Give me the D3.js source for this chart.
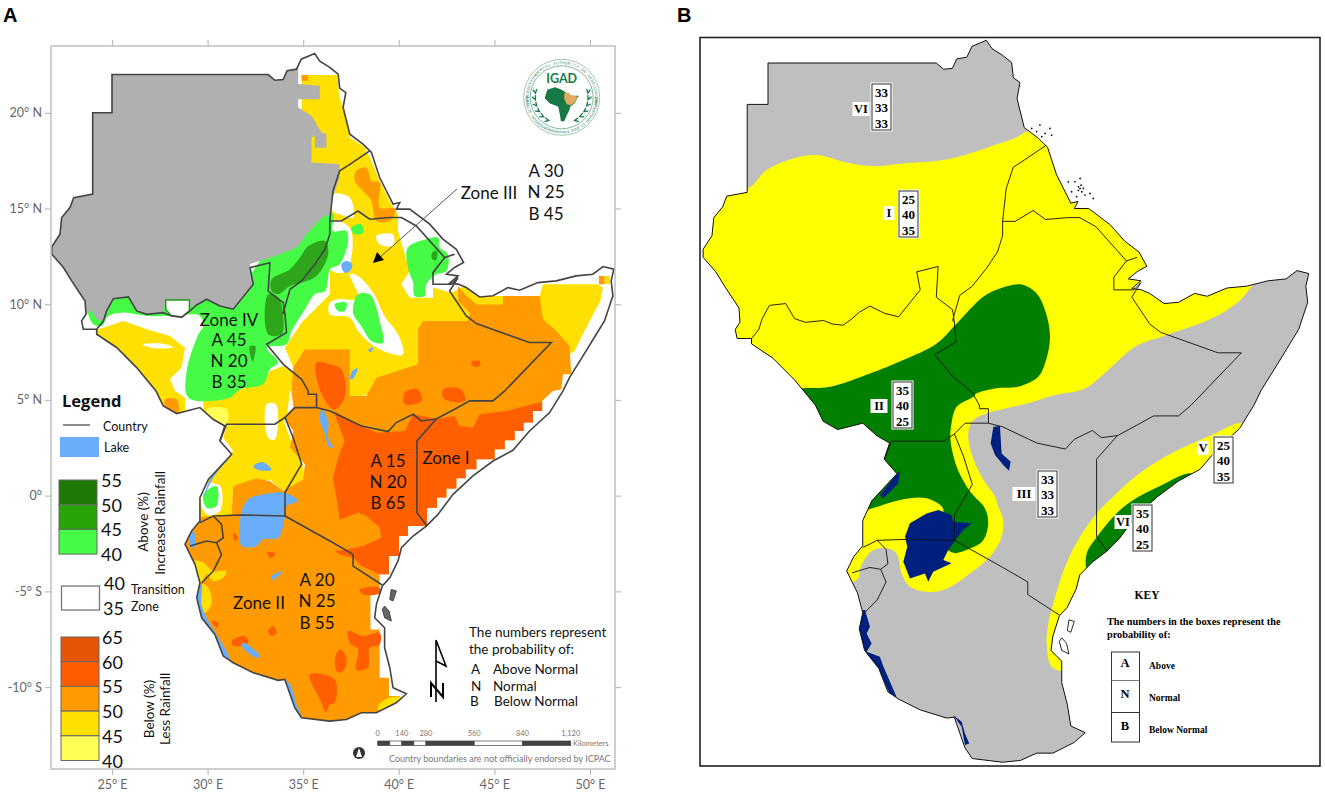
<!DOCTYPE html>
<html>
<head>
<meta charset="utf-8">
<script src="https://cdn.jsdelivr.net/npm/d3@7"></script>
<style>
html, body { margin: 0; padding: 0; background: #fff; }
svg { display: block; }
</style>
</head>
<body>
<div id="chart"></div>
<script>
// everything below is [lon, lat]

// coast and outer border of the region
var outline = [[25,22],[33.17,22],[33.52,21.7],[33.95,21.74],[34.16,22.2],[34.65,22.28],[34.9,22.8],[35.6,23.1],[35.87,22.7],[36.39,22.37],[36.83,22.02],[36.91,21.29],[37.23,21.06],[37.09,20.28],[37.44,18.88],[38.13,18.36],[38.57,17.93],[39,16.62],[39.7,15.23],[40.05,15.31],[39.87,14.97],[40.57,14.97],[41.62,14.18],[42.31,13.4],[43.01,12.87],[43.39,12.18],[42.92,11.92],[42.49,11.57],[43.1,11.48],[42.66,11.1],[43.1,11.05],[43.53,10.87],[44.23,10.38],[44.93,10.44],[45.71,10.87],[46.32,10.73],[47.28,11.13],[48.24,11.22],[49.28,11.48],[50.15,11.57],[50.68,11.97],[51.25,11.83],[51.11,11.22],[51.2,10.44],[50.76,9.13],[50.33,8.43],[49.8,7.56],[48.93,6.17],[48.59,5.47],[47.89,4.34],[46.84,3.38],[45.97,2.37],[44.93,1.81],[43.88,1.03],[42.84,0.07],[42.05,-0.98],[41.44,-1.59],[40.75,-2.11],[40.14,-2.72],[39.96,-3.41],[39.53,-4.29],[39.14,-4.72],[38.83,-5.68],[38.74,-6.38],[39.26,-6.9],[39.26,-7.94],[39.53,-8.99],[39.7,-10.03],[40.4,-10.35],[39.87,-10.82],[38.83,-11.34],[38.04,-11.34],[37.26,-11.69],[36.39,-11.78],[34.91,-11.6],[34.56,-11.08],[34.04,-9.6],[33.69,-9.65],[32.39,-9.25],[31.34,-8.73],[30.82,-8.38],[30.38,-7.25],[29.69,-6.38],[29.43,-5.33],[29.6,-4.55],[29.34,-3.59],[28.82,-2.54],[29.16,-1.85],[29.6,-1.32],[29.6,-0.1],[30.04,0.85],[31.26,2.16],[30.64,2.86],[30.9,3.64],[30.29,3.99],[29.6,4.6],[28.38,4.29],[27.68,4.69],[27.3,5.47],[26.29,6.69],[25.24,7.74],[24.2,8.43],[24.2,8.69],[23.5,8.69],[23.41,9.13],[23.64,9.48],[23.59,10.17],[22.89,11.22],[22.46,11.92],[21.85,12.61],[21.85,13],[22.28,13.66],[22.37,14.53],[22.8,15.05],[23,15.57],[23.99,15.75],[23.99,20],[25,20]];

// country borders
var borders = [
  [[24.2,8.69],[24.55,9.12],[24.72,9.65],[25.07,10.29],[25.86,10.38],[26.29,9.65],[26.82,9.47],[27.69,9.56],[28.12,9.39],[28.65,9.33],[29.08,9.65],[29.43,9.96],[29.95,10.26],[30.65,9.91],[31.34,9.74],[32.39,11.04],[32.22,11.91],[33.26,12.17],[33.17,10.69],[33.96,10.08],[34.05,9.47]],
  [[38.48,18.01],[37.44,17.31],[36.91,16.97],[36.56,15.92],[36.39,14.35],[36.39,13.66],[36.14,12.87],[35.61,12.09],[34.92,11.22],[34.31,10.78],[33.96,9.56],[34.05,9.47],[34.13,8.52],[33.09,7.91],[33.96,6.86],[34.92,6.08],[35.26,5.47],[35.26,5.3],[35.7,5.3],[35.7,4.6]],
  [[34.05,4.08],[34.57,4.6],[35.7,4.6],[36.4,4.42],[38.05,3.64],[39.44,3.35],[39.87,3.82],[40.75,4.25],[41.18,3.9],[41.96,4],[42.92,4.51],[43.71,4.95],[44.93,4.95],[45.54,5.47],[47.98,8],[46.84,8],[44.06,8.99],[43.53,9.39],[42.66,10.69],[43.1,11.39]],
  [[36.39,14.35],[37,14.35],[37.87,14.87],[38.48,14.44],[39.53,14.53],[40.14,14.53],[40.92,14.09],[42.4,12.44],[42.92,12.61]],
  [[42.4,12.44],[41.79,11.65],[41.79,11.04],[42.75,11.04],[43.1,11.39]],
  [[41.96,4],[40.95,2.86],[40.95,-0.89],[41.48,-1.59]],
  [[34.05,-1.06],[36.4,-2.37],[37.61,-3.07],[37.61,-3.68],[39.14,-4.67]],
  [[29.6,-1.41],[30.3,-1.06],[31.78,-1.01],[34.05,-1.06]],
  [[34.05,-1.06],[34.05,0.16],[34.92,1.64],[34.48,3.03],[34.05,4.08],[33.52,3.73],[30.99,3.73],[30.65,2.86]],
  [[30.3,-1.06],[30.73,-1.5],[30.82,-2.2],[30.47,-2.46],[29.95,-2.37],[29.08,-2.63]],
  [[30.47,-2.46],[30.73,-3.07],[30.3,-3.94],[29.69,-4.55]]
];

var pemba = [[39.61,-4.9],[39.87,-4.98],[39.7,-5.5],[39.53,-5.42]];
var zanzibar = [[39.26,-5.77],[39.49,-6.03],[39.61,-6.55],[39.26,-6.38],[39.14,-5.94]];
var islandDots = [[39.58,16.26],[39.9,16.26],[40.15,16.42],[40.07,16.02],[40.23,15.78],[40.39,15.62],[40.63,15.7],[40.79,15.46],[39.74,15.78],[39.98,15.54],[40.15,15.94],[40.31,15.94],[40.07,15.85],[40.2,16.1],[37.8,18.84],[38.2,19],[38.69,18.84],[38.04,18.68],[38.45,18.6],[38.77,18.52],[38.29,18.44]];

// map A rainfall classes
var grayA = [[21,23.5],[34.74,23.5],[34.74,21.5],[35.87,21.41],[35.87,20.71],[34.74,20.71],[34.74,20.28],[35.44,19.84],[35.96,18.97],[36.22,18.88],[36.22,18.18],[35.61,18.18],[35.61,18.79],[35.44,18.71],[35.44,17.4],[36.88,17.33],[36.91,16.62],[36.48,15.4],[36.39,14.7],[35.96,14.5],[35.17,13.65],[34.65,12.95],[33.35,12.45],[32.22,12.1],[32.39,11.04],[31.34,9.74],[30.65,9.91],[29.95,10.26],[29.43,9.96],[29.05,9.9],[27.81,10.22],[27.69,9.56],[26.82,9.47],[26.29,9.65],[25.86,10.38],[25.07,10.29],[24.72,9.65],[24.55,9.12],[24.2,9.2],[23.9,9.7],[23.2,9],[21,12]];
var yellowNorth = [[34.92,21.98],[36.77,21.98],[36.91,20.8],[37.17,20.1],[37.44,18.71],[38.22,18.2],[38.57,17.49],[39,16.44],[39.61,15.22],[39.96,14.7],[39.96,13.83],[40.57,11.74],[40.14,11.04],[40.57,10.34],[41.79,10.34],[41.79,10.87],[42.75,10.6],[43.45,10.95],[44.06,10.43],[45.45,10.43],[47.37,10.43],[47.54,11.04],[50.41,11.04],[50.68,10.87],[50.54,10.17],[50.07,9.3],[49.63,8.43],[49.2,7.56],[48.93,7.38],[46.84,6.69],[37.44,5.12],[34.48,6.69],[34.05,7.73],[34.92,9.04],[36.4,10.52],[36.39,14.35],[36.39,17.3],[34.92,17.3]];
var yellowHorn = [[50.76,11.48],[51.05,11.48],[51.05,11.04],[50.76,11.04]];
var yellowSouthSudanW = [[24.29,8.69],[25.6,9.13],[26.82,8.69],[28.03,8.34],[28.82,7.73],[28.64,6.69],[28.03,6.08],[28.3,5.47],[28.82,5.12],[28.82,4.25],[27.51,4.25],[27,5],[25,7],[23.5,8.5]];
var yellowSouthSudanE = [[32.91,5.9],[33.26,6.51],[33.96,6.77],[34.92,6.16],[34.48,5.47],[34.31,5.47],[34.13,3.99],[31,3.64],[30.3,3.99],[29.78,4.42],[29.78,5.3],[31.34,5.47],[31.69,5.55]];
var yellowUganda = [[31,3.64],[33.96,3.99],[34.48,2.51],[35,1.55],[35.09,0.59],[33.96,0.24],[33.26,0.85],[31.34,0.5],[31.26,-1.01],[30.3,-1.06],[29.6,-1.41],[29.43,-0.28],[29.95,0.77],[31.34,2.33],[30.82,3.03]];
var yellowTz1 = [[29.25,-3.4],[29.78,-3.5],[30.3,-3.94],[31,-3.94],[30.82,-4.29],[30.3,-4.46],[29.95,-4.11],[29.69,-4.55],[29.43,-4.11]];
var yellowTz2 = [[29.69,-4.63],[30.04,-4.81],[30.21,-5.68],[29.78,-6.12]];
var yellowTz3 = [[38.92,-10.99],[39.49,-10.56],[40.14,-10.56],[39.96,-10.82],[39,-11.25]];
var paleSouthSudan = [[29.95,4.51],[31,4.51],[31,3.73],[30.13,3.9]];
var orangeMain = [[43.1,10.95],[43.45,10.52],[44.06,9.99],[45.45,9.99],[45.45,10.43],[47.37,10.43],[47.54,9.21],[48.24,8.6],[48.93,7.82],[49.02,6.34],[48.59,6.34],[48.5,5.55],[48.06,5.47],[47.5,4.95],[47.5,4.42],[47.02,4.42],[47.02,3.82],[46.53,3.82],[46.53,3.38],[46.06,3.38],[46.06,2.89],[45.54,2.89],[45.54,2.42],[45.01,2.42],[45.01,1.9],[44.06,1.9],[44.06,1.38],[43.5,1.38],[43.5,0.91],[43.01,0.91],[43.01,0.38],[42.49,0.38],[42.49,-0.1],[42,-0.1],[42,-0.63],[41.48,-0.63],[41.48,-1.59],[40.48,-1.59],[40.48,-2.11],[40.01,-2.11],[40.01,-3.15],[39.49,-3.15],[39.49,-4.11],[39,-4.11],[39,-5.07],[38.52,-5.07],[38.52,-6.99],[39,-6.99],[39,-9.51],[39.49,-9.51],[39.49,-10.47],[40.05,-10.47],[40.05,-11.95],[34,-12],[29,-8],[28.5,-3],[28.5,-1.2],[30.3,-1.06],[31.26,-0.98],[31.34,0.5],[32.56,0.9],[33.26,0.77],[33.96,0.24],[35,0.85],[35.09,1.64],[34.31,2.51],[34.49,3.38],[33.96,4.08],[34.49,4.6],[34.39,5.47],[34.48,6.69],[35.09,7.64],[37.44,7.64],[37.44,5.2],[38.31,5.2],[38.83,6.16],[41.01,6.86],[41.01,8.69],[41.27,9.13],[43.62,9.13],[43.71,9.56],[43.1,10.17]];
var orangeEritrea = [[37.78,16.97],[38.31,17.14],[38.57,16.44],[39,16.36],[39,15.05],[39.79,15.01],[39.79,14.7],[39.53,14.35],[38.83,14.35],[38.57,15.4],[38.13,15.92],[37.7,16.44]];
var orangeSouthSudan = [[27.77,5.03],[28.38,5.03],[28.47,4.34],[27.86,4.42]];
var orangeHorn = [[50.47,11.48],[50.76,11.48],[50.76,11.04],[50.47,11.04]];
var orangeNorth = [[34.92,21.98],[35.25,21.98],[35.25,21.67],[34.92,21.67]];
var redMain = [[42.92,4.16],[43.18,3.64],[43.88,3.55],[44.23,4.25],[45.62,4.42],[47.5,4.91],[47.5,4.42],[47.02,4.42],[47.02,3.82],[46.53,3.82],[46.53,3.38],[46.06,3.38],[46.06,2.89],[45.54,2.89],[45.54,2.42],[45.01,2.42],[45.01,1.9],[44.06,1.9],[44.06,1.38],[43.5,1.38],[43.5,0.91],[43.01,0.91],[43.01,0.38],[42.49,0.38],[42.49,-0.1],[42,-0.1],[42,-0.63],[41.48,-0.63],[41.48,-1.59],[40.48,-1.59],[40.48,-2.11],[40.01,-2.11],[40.01,-3.15],[39.49,-3.15],[39.49,-4.11],[39,-4.11],[38.05,-3.68],[37.61,-3.24],[36.91,-3.07],[36.65,-2.89],[37.35,-2.81],[38.13,-2.63],[39.09,-2.2],[39,-1.67],[38.31,-1.06],[37.87,-0.89],[36.91,-1.24],[36.83,-0.63],[36.56,0.94],[36.83,1.99],[37.17,2.86],[36.74,3.99],[36.6,4.42],[38.05,3.64],[38.83,3.29],[40.31,3.38],[40.75,4.25],[41.96,4]];
var redPatches = [
  [[35.7,6.95],[36.4,6.86],[36.99,6.6],[37.17,5.12],[36.6,4.5],[35.87,5.55]],
  [[40.31,5.38],[41.01,5.55],[41.18,4.94],[40.31,4.77]],
  [[42.31,5.55],[43.27,5.55],[43.45,4.94],[42.4,5.03]],
  [[43.79,7],[44.23,7.03],[44.23,6.77],[43.88,6.77]],
  [[35.35,-9.34],[36.65,-9.6],[36.65,-10.82],[36.39,-10.91],[36.2,-11.3],[35.88,-10.65]],
  [[36.91,-8.03],[37.26,-8.47],[37.17,-9.08],[36.83,-9.25],[36.65,-8.64]],
  [[37.35,-7.07],[38.13,-7.33],[39,-7.16],[39,-7.77],[38.48,-7.94],[38.39,-8.99],[37.78,-9.08],[37.87,-8.03],[37.44,-7.68]],
  [[37.96,-4.9],[39,-4.81],[39,-5.1],[38.13,-5.16]],
  [[31.26,-7.6],[31.95,-7.33],[32.13,-7.68],[31.35,-7.86]],
  [[33.17,-7.07],[33.44,-6.81],[33.61,-7.16],[33.35,-7.33]],
  [[30.21,-6.55],[30.56,-6.64],[30.47,-6.9]],
  [[31.35,-1.93],[31.6,-2.2],[31.43,-2.37]],
  [[33.1,-2.95],[33.55,-3.03],[33.3,-3.25]]
];
var whiteHoles = [
  [[36.39,10.08],[36.83,10.26],[37.78,10.26],[37.87,10.52],[37.44,11.56],[37.87,11.48],[38.66,10.61],[39.26,9.39],[39.96,8.43],[40.22,7.38],[39.44,7.47],[38.57,7.91],[37.87,8.6],[37.44,9.3],[36.39,9.47]],
  [[36.56,15.75],[37.44,15.57],[37.61,14.53],[36.91,14.7],[36.5,14.9]],
  [[36.39,14.35],[37.44,14],[37.44,12.09],[37.09,11.65],[36.39,11.83]],
  [[38.83,13.57],[39.7,13.65],[39.7,13.05],[39,13.13]],
  [[29.78,0.59],[30.65,0.5],[30.65,-0.8],[30.04,-1.01],[29.69,-0.54]],
  [[33.09,4.77],[33.57,4.77],[33.52,2.94],[33.17,3.03]],
  [[26.6,7.9],[27.6,7.95],[28.2,7.75],[27.2,7.7]]
];
var lightGreen = [
  [[23.77,9.73],[25.07,10.69],[31.34,10.69],[33.09,12.61],[34.83,13.31],[35.96,14.7],[36.57,14.7],[36.56,13.83],[37.26,13.83],[37.35,13.3],[37.17,12.61],[36.91,12.09],[36.39,11.83],[36.31,11.39],[36.14,10.69],[35.61,10.52],[35.09,9.73],[34.39,8.6],[34.13,7.91],[33.09,7.73],[33.7,6.95],[33.26,6.6],[32.91,5.82],[31.69,5.55],[31.17,5.12],[29,5.12],[28.91,6.51],[29.52,8.43],[29.78,8.86],[29.6,9.39],[28.03,9.39],[26.82,9.39],[25.51,9.56],[24.81,9.39],[24.46,8.86],[24.03,8.95]],
  [[40.48,12.96],[41.44,13.39],[42.05,13.48],[42.14,12.96],[42.57,12.61],[42.49,11.74],[41.96,11.56],[41.44,11.04],[41.36,10.43],[40.83,10.43],[40.75,11.13],[40.48,11.91]],
  [[37.87,10.52],[38.48,10.52],[38.74,10.08],[39,9.13],[39.18,7.99],[38.57,8.08],[38.04,8.86],[37.61,9.56]],
  [[36.65,10],[37.26,10.08],[37.17,9.65],[36.83,9.65]],
  [[37.52,14],[38.04,14.18],[38.13,13.74],[37.7,13.65]],
  [[29.78,0.07],[30.47,0.5],[30.47,-0.54],[29.95,-0.63]]
];
var midGreen = [
  [[33.17,10.52],[33.7,10.35],[33.96,9.39],[33.87,8.43],[33.17,8.43]],
  [[33.35,11.3],[34.31,11.83],[34.83,12.44],[35.27,13.04],[36.14,13.31],[36.31,12.61],[35.7,11.48],[34.92,11.13],[34.31,10.95],[33.7,10.52],[33.35,10.69]],
  [[24.38,9.73],[24.64,9.73],[24.64,9.3],[24.3,9.3]],
  [[32.2,7.8],[32.5,7.8],[32.35,7]],
  [[41.75,12.7],[42,12.8],[41.95,12.3],[41.75,12.35]]
];
var abyei = [[27.81,10.22],[29.05,10.22],[29.05,9.65],[28.65,9.33],[28.12,9.39],[27.81,9.73]];

var lakesA = [
  [[31.78,-0.8],[32.13,-0.19],[32.91,0.07],[33.96,0.16],[34.74,-0.28],[34.13,-0.54],[34.05,-1.06],[33.7,-2.2],[32.91,-2.28],[32.56,-2.63],[31.78,-2.63],[31.69,-1.5]],
  [[35.96,4.51],[36.31,3.9],[36.31,3.03],[36.56,2.51],[36.39,2.51],[36.08,3.38],[35.88,3.9]],
  [[29.43,-4.98],[29.6,-6.2],[30.3,-7.25],[30.82,-8.47],[31.17,-8.68],[31.08,-8.29],[30.47,-7.25],[29.95,-6.38],[29.69,-5.68],[29.69,-4.63]],
  [[29.17,-1.85],[29.08,-2.63],[29.31,-2.72],[29.34,-2.02]],
  [[31.26,2.16],[30.3,0.94],[29.78,-0.1],[30.13,0.85],[31.17,2.16]],
  [[33.96,-9.6],[34.31,-9.86],[34.66,-10.91],[34.91,-11.6],[34.66,-11.64],[34.39,-10.91],[33.99,-9.95]],
  [[31.87,-7.68],[32.74,-8.38],[32.56,-8.47],[31.78,-7.86]],
  [[37,12.09],[37.26,12.26],[37.57,12.09],[37.44,11.74],[37.17,11.65]],
  [[32.4,1.55],[32.9,1.75],[33.35,1.35],[32.9,1.3],[32.5,1.4]],
  [[33.3,-4.25],[33.85,-3.95],[33.8,-4.1],[33.4,-4.4]],
  [[37.6,6.55],[37.85,6.65],[37.6,6.1],[37.45,6.1]],
  [[38.4,7.6],[38.65,7.75],[38.55,7.5]]
];

// map B zones
var yellowB = [[23.99,15.94],[24.93,16.83],[26.23,17.39],[27.36,17.55],[28.65,17.23],[29.95,17.02],[31.57,17.15],[33.51,17.31],[34.8,17.63],[36.26,18.12],[36.99,18.36],[37.64,18.71],[40,19],[49,12],[48.48,11.22],[47.75,10.39],[46.38,9.58],[44.43,8.89],[42.82,8.29],[41.52,7.17],[40.39,6.28],[38.93,5.96],[37.64,5.56],[36.51,5.31],[35.61,5.07],[34.97,4.75],[34.72,4.11],[34.88,3.14],[35.37,2.01],[36.02,1.05],[36.18,0.56],[36.42,-0.08],[36.34,-0.89],[36.02,-1.53],[35.61,-2.01],[34.48,-2.9],[33.51,-3.46],[32.7,-3.54],[31.89,-3.3],[31.49,-2.66],[31.24,-1.69],[30.84,-1.45],[30.11,-1.53],[29.54,-2.25],[29.3,-2.98],[28,-3],[22,5],[20,16]];
var greenB = [[26.47,6.28],[28.01,6.36],[29.95,7],[31.57,7.65],[33.19,8.45],[34.16,9.42],[35.45,10.71],[36.26,11.11],[37.31,11.3],[38.04,10.87],[38.45,10.06],[38.69,8.78],[38.45,7.49],[38.12,6.84],[37.15,6.36],[36.02,6.28],[35.13,6.04],[34.97,5.88],[34.16,5.39],[33.91,4.59],[33.86,3.78],[34.16,2.5],[34.56,1.69],[34.88,1.21],[35.53,0.48],[35.69,-0.24],[35.45,-1.05],[34.8,-1.45],[33.91,-1.64],[33.18,-0.56],[33.51,0.44],[32.7,0.97],[31.41,0.89],[30.03,0.48],[28,0],[24,6]];
var yellowCoastB = [[48.07,4.62],[46.54,4.03],[44.43,3.06],[42.82,2.01],[41.68,0.97],[40.95,0.24],[40.15,-0.89],[39.42,-2.33],[38.85,-4.11],[38.61,-5.07],[38.53,-6.04],[38.77,-7.17],[39.34,-7.36],[39.9,-7],[41,-3],[46.5,1],[49,4]];
var greenCoastB = [[40.47,-2.58],[40.47,-1.69],[41.04,-0.8],[42,0.32],[42.73,0.89],[43.95,1.53],[45.57,2.17],[46,1.5],[41,-4]];
var lakesB = [
  [[31.65,-0.89],[31.89,-0.24],[32.7,0.24],[33.27,0.4],[33.91,0.16],[33.99,-0.16],[34.88,-0.24],[34.48,-0.56],[34.16,-0.97],[33.75,-1.53],[33.51,-2.01],[33.91,-2.17],[33.02,-2.58],[32.78,-3.06],[32.62,-2.66],[31.89,-2.9],[31.57,-2.09],[31.76,-1.37]],
  [[31.41,2.34],[31.32,1.69],[30.6,0.97],[30.43,1.13],[31.08,1.93]],
  [[29.3,-4.43],[29.71,-4.43],[29.95,-5.23],[29.79,-5.56],[30.03,-6.04],[29.79,-6.44],[30.43,-6.68],[30.6,-7.16],[31.24,-8.61],[31,-8.65],[30.35,-7.33],[29.95,-6.76],[29.54,-6.2],[29.3,-5.07]],
  [[33.99,-9.5],[34.4,-9.82],[34.56,-10.39],[34.77,-10.87],[34.56,-10.95],[34.4,-10.06]],
  [[35.94,4.43],[36.26,4.46],[36.34,3.14],[36.78,2.74],[36.7,2.3],[36.42,2.58],[36.02,3.06],[35.81,3.62]]
];

// legends and labels
var aboveColors = ["#1f7a05", "#27a508", "#45fb45"];
var aboveTicks = [55, 50, 45, 40];
var transitionTicks = [40, 35];
var belowColors = ["#e65405", "#ff5c00", "#ff9a00", "#ffe000", "#ffff55"];
var belowTicks = [65, 60, 55, 50, 45, 40];
var scaleTicks = [0, 140, 280, 560, 840, 1120];
var scaleSegments = [0, 70, 140, 210, 280, 560, 840, 1120];
var lonTicks = [25, 30, 35, 40, 45, 50];
var latTicks = [20, 15, 10, 5, 0, -5, -10];
var zoneBoxesB = [
  { zone: "VI", values: [33, 33, 33] },
  { zone: "I", values: [25, 40, 35] },
  { zone: "II", values: [35, 40, 25] },
  { zone: "III", values: [33, 33, 33] },
  { zone: "V", values: [25, 40, 35] },
  { zone: "VI", values: [35, 40, 25] }
];
var africaLogo = [[-17,-17],[-8,-20],[-2,-18],[2,-16],[6,-13],[12,-10],[20,-10],[15,-1],[10,3],[9,7],[6,13],[3,20],[-1,20],[-2,13],[-3,8],[-4,3],[-8,1],[-14,-1],[-20,-7]];
var hornLogo = [[3,-13],[8,-14],[10,-11],[19,-9],[15,-2],[11,1],[6,0],[3,-6]];
var logoTopText = "INTERGOVERNMENTAL AUTHORITY ON DEVELOPMENT";
var logoBottomText = "AUTORITE INTERGOUVERNEMENTALE POUR LE DEVELOPPEMENT";

var width = 1325, height = 796;
var lake = "#69adfb", bdark = "#444";
var sansFont = "Lato, 'Noto Sans', sans-serif";
var serifFont = "'Liberation Serif', serif";

var svg = d3.select("#chart").append("svg").attr("width", width).attr("height", height);

// panel scales: the same geography is used for both maps
var xA = d3.scaleLinear().domain([21.81, 51.31]).range([51, 615]);
var yA = d3.scaleLinear().domain([23.49, -14.28]).range([46, 769]);
var xB = d3.scaleLinear().domain([25, 50]).range([768, 1283]);
var yB = d3.scaleLinear().domain([22, -10]).range([63, 725.4]);

function lineFor(x, y, curve) {
    var l = d3.line().x(function(d) { return x(d[0]); }).y(function(d) { return y(d[1]); });
    return curve ? l.curve(curve) : l;
}
var pathA = lineFor(xA, yA), pathB = lineFor(xB, yB);
var soft = d3.curveCatmullRomClosed.alpha(0.5);
var softA = lineFor(xA, yA, soft), softB = lineFor(xB, yB, soft);

function fillAll(g, path, shapes, color) {
    g.selectAll(null).data(shapes).enter().append("path")
        .attr("d", function(d) { return path(d) + "Z"; })
        .attr("fill", color);
}

function label(g, x, y, txt, size, opts) {
    opts = opts || {};
    return g.append("text").attr("x", x).attr("y", y).text(txt)
        .attr("font-family", opts.font || sansFont)
        .attr("font-size", size)
        .attr("font-weight", opts.weight || "normal")
        .attr("fill", opts.fill || "#111")
        .attr("text-anchor", opts.anchor || "start")
        .attr("dominant-baseline", "central");
}

svg.append("defs").append("clipPath").attr("id", "clipA").append("path").attr("d", pathA(outline) + "Z");
d3.select("defs").append("clipPath").attr("id", "clipB").append("path").attr("d", pathB(outline) + "Z");

/* ---------- map A ---------- */
var a = svg.append("g");
a.append("path").attr("d", pathA(outline) + "Z").attr("fill", "#fff");
var land = a.append("g").attr("clip-path", "url(#clipA)");
fillAll(land, pathA, [yellowNorth, yellowHorn, yellowSouthSudanW, yellowSouthSudanE, yellowUganda], "#ffe000");
fillAll(land, softA, [paleSouthSudan], "#ffff55");
fillAll(land, pathA, [orangeMain, orangeHorn, orangeNorth], "#ff9a00");
fillAll(land, softA, [orangeEritrea, orangeSouthSudan], "#ff9a00");
fillAll(land, softA, [yellowTz1, yellowTz2, yellowTz3], "#ffe000");
fillAll(land, pathA, [redMain], "#ff5f00");
fillAll(land, softA, redPatches, "#ff5f00");
fillAll(land, softA, whiteHoles, "#fff");
fillAll(land, softA, lightGreen, "#45fb45");
fillAll(land, softA, midGreen, "#2ea51a");
fillAll(land, pathA, [grayA], "#b0b0b0");
land.append("path").attr("d", pathA(abyei) + "Z").attr("fill", "#fff").attr("stroke", "#1c9c1c").attr("stroke-width", 1.5);
fillAll(land, softA, lakesA, lake);

a.selectAll(".b").data(borders).enter().append("path")
    .attr("d", pathA).attr("fill", "none").attr("stroke", bdark).attr("stroke-width", 1.6);
a.append("path").attr("d", pathA(outline) + "Z").attr("fill", "none").attr("stroke", bdark).attr("stroke-width", 1.6);
a.selectAll(".i").data([pemba, zanzibar]).enter().append("path")
    .attr("d", function(d) { return pathA(d) + "Z"; }).attr("fill", "#666").attr("stroke", bdark);

// frame and graticule ticks
a.append("rect").attr("x", 51).attr("y", 46).attr("width", 564).attr("height", 723)
    .attr("fill", "none").attr("stroke", "#c4c4c4").attr("stroke-width", 1.6);
function tickStyle(sel) {
    sel.select(".domain").remove();
    sel.selectAll("line").attr("stroke", "#bdbdbd").attr("stroke-width", 1.2);
    sel.selectAll("text").attr("fill", "#666").attr("font-family", sansFont).attr("font-size", 12.5);
}
var lonFmt = function(d) { return d + "° E"; };
var latFmt = function(d) { return d === 0 ? "0°" : d > 0 ? d + "° N" : d + "° S"; };
a.append("g").attr("transform", "translate(0,769)")
    .call(d3.axisBottom(xA).tickValues(lonTicks).tickSize(6).tickPadding(5).tickFormat(lonFmt)).call(tickStyle);
a.append("g").attr("transform", "translate(0,46)")
    .call(d3.axisTop(xA).tickValues(lonTicks).tickSize(6).tickFormat("")).call(tickStyle);
a.append("g").attr("transform", "translate(51,0)")
    .call(d3.axisLeft(yA).tickValues(latTicks).tickSize(6).tickFormat(latFmt)).call(tickStyle);
a.append("g").attr("transform", "translate(615,0)")
    .call(d3.axisRight(yA).tickValues(latTicks).tickSize(6).tickFormat("")).call(tickStyle);

// zone text
label(a, 229, 319, "Zone IV", 17, { anchor: "middle" });
label(a, 229, 339, "A 45", 17, { anchor: "middle" });
label(a, 229, 360, "N 20", 17, { anchor: "middle" });
label(a, 229, 381, "B 35", 17, { anchor: "middle" });
label(a, 489, 192, "Zone III", 17, { anchor: "middle" });
label(a, 546, 170, "A 30", 17, { anchor: "middle" });
label(a, 546, 191, "N 25", 17, { anchor: "middle" });
label(a, 546, 213, "B 45", 17, { anchor: "middle" });
label(a, 446, 457, "Zone I", 17, { anchor: "middle" });
label(a, 388, 460, "A 15", 17, { anchor: "middle" });
label(a, 388, 481, "N 20", 17, { anchor: "middle" });
label(a, 388, 502, "B 65", 17, { anchor: "middle" });
label(a, 259, 602, "Zone II", 17, { anchor: "middle" });
label(a, 317, 579, "A 20", 17, { anchor: "middle" });
label(a, 317, 600, "N 25", 17, { anchor: "middle" });
label(a, 317, 622, "B 55", 17, { anchor: "middle" });

// arrow to zone III
a.append("line").attr("x1", 457).attr("y1", 189).attr("x2", 378).attr("y2", 259).attr("stroke", "#555").attr("stroke-width", 1);
a.append("path").attr("d", "M373,263L377,252L384,260Z").attr("fill", "#000");

// probability note
label(a, 469, 632, "The numbers represent", 13.5);
label(a, 469, 649, "the probability of:", 13.5);
label(a, 471, 669, "A", 13.5);
label(a, 493, 669, "Above Normal", 13.5);
label(a, 471, 686, "N", 13.5);
label(a, 493, 686, "Normal", 13.5);
label(a, 470, 701, "B", 13.5);
label(a, 494, 701, "Below Normal", 13.5);

// north arrow
a.append("path").attr("d", "M436,640L436,702M436,640L446,666L436,661").attr("fill", "none").attr("stroke", "#000").attr("stroke-width", 1.6);
a.append("path").attr("d", "M431,697L431,683L443,697L443,683").attr("fill", "none").attr("stroke", "#000").attr("stroke-width", 2);

// scale bar
var km = d3.scaleLinear().domain([0, 1120]).range([377.7, 570.7]);
d3.pairs(scaleSegments).forEach(function(p, i) {
    a.append("rect").attr("x", km(p[0])).attr("y", 741).attr("width", km(p[1]) - km(p[0])).attr("height", 4.5)
        .attr("fill", i % 2 ? "#fff" : "#444").attr("stroke", "#444").attr("stroke-width", 0.7);
});
scaleTicks.forEach(function(t) {
    label(a, km(t), 733.5, d3.format(",")(t), 7.5, { anchor: "middle", fill: "#777" });
});
label(a, 573, 743, "Kilometers", 7.5, { fill: "#777" });
label(a, 389, 758, "Country boundaries are not officially endorsed by ICPAC", 9, { fill: "#777" });
a.append("circle").attr("cx", 359).attr("cy", 753).attr("r", 6).attr("fill", "#333");
a.append("path").attr("d", "M359,748L362,757L356,757Z").attr("fill", "#fff");

// IGAD logo
var logo = a.append("g").attr("transform", "translate(561.7,97.3)");
logo.append("circle").attr("r", 38).attr("fill", "#fff").attr("stroke", "#8fb8a0").attr("stroke-width", 0.8);
logo.append("circle").attr("r", 31.5).attr("fill", "#fff").attr("stroke", "#4d9a70").attr("stroke-width", 0.7);
// ring text goes letter by letter round the seal
function ringText(txt, radius, centerDeg, stepDeg, flip) {
    txt.split("").forEach(function(ch, i) {
        var deg = centerDeg + (i - (txt.length - 1) / 2) * stepDeg * (flip ? -1 : 1);
        var rad = (deg - 90) * Math.PI / 180;
        logo.append("text").text(ch)
            .attr("text-anchor", "middle").attr("dominant-baseline", "central")
            .attr("font-family", sansFont).attr("font-size", 3.6).attr("fill", "#2f7f55")
            .attr("transform", "translate(" + (radius * Math.cos(rad)) + "," + (radius * Math.sin(rad)) + ") rotate(" + (flip ? deg + 180 : deg) + ")");
    });
}
ringText(logoTopText, 34.7, 0, 4.9, false);
ringText(logoBottomText, 34.7, 180, 3.6, true);
label(logo, 0, -19, "IGAD", 12.5, { anchor: "middle", weight: "bold", fill: "#167a45" });
var logoScale = d3.scaleLinear().domain([-20, 20]).range([-17, 17]);
var logoPath = lineFor(logoScale, logoScale);
var logoBody = logo.append("g").attr("transform", "translate(0,7)");
logoBody.append("path").attr("d", logoPath(africaLogo) + "Z").attr("fill", "#167a45");
logoBody.append("path").attr("d", logoPath(hornLogo) + "Z").attr("fill", "#e3ab62");
[-1, 1].forEach(function(side) {
    d3.range(6).forEach(function(i) {
        var ang = (i * 14 - 12) * Math.PI / 180;
        logo.append("path")
            .attr("d", "M-2.5,-2L1.5,0L-2.5,2")
            .attr("fill", "none").attr("stroke", "#167a45").attr("stroke-width", 1.3)
            .attr("transform", "translate(" + (side * 27 * Math.cos(ang)) + "," + (27 * Math.sin(ang)) + ") rotate(" + (side > 0 ? 100 + i * 14 : 80 - i * 14) + ")");
    });
});

/* ---------- legend of map A ---------- */
label(a, 62, 400, "Legend", 16.5, { weight: "bold", font: "'Open Sans', sans-serif" });
a.append("line").attr("x1", 63).attr("x2", 90).attr("y1", 425).attr("y2", 425).attr("stroke", "#444").attr("stroke-width", 1.2);
label(a, 103, 426, "Country", 12.5);
a.append("rect").attr("x", 60).attr("y", 437).attr("width", 39).attr("height", 20).attr("fill", lake);
label(a, 104, 447, "Lake", 12.5);

function ramp(colors, ticks, x, y0, boxH, tickX) {
    colors.forEach(function(c, i) {
        a.append("rect").attr("x", x).attr("y", y0 + i * boxH).attr("width", 38).attr("height", boxH)
            .attr("fill", c).attr("stroke", "#666").attr("stroke-width", 1);
    });
    ticks.forEach(function(t, i) {
        label(a, tickX, y0 + i * boxH, t, 18);
    });
}
ramp(aboveColors, aboveTicks, 59, 480, 24.7, 101);
a.append("rect").attr("x", 61.5).attr("y", 586).attr("width", 38).attr("height", 24)
    .attr("fill", "#fff").attr("stroke", "#777").attr("stroke-width", 1.3);
label(a, 104, 583, transitionTicks[0], 18);
label(a, 103, 608, transitionTicks[1], 18);
label(a, 131, 589, "Transition", 12.5);
label(a, 131, 606, "Zone", 12.5);
ramp(belowColors, belowTicks, 61, 637, 24.7, 102);

function rotated(x, y, txt) {
    label(a, 0, 0, txt, 13.5, { anchor: "middle" }).attr("transform", "translate(" + x + "," + y + ") rotate(-90)");
}
rotated(143, 522, "Above (%)");
rotated(160, 523, "Increased Rainfall");
rotated(149, 709, "Below (%)");
rotated(165, 709, "Less Rainfall");

/* ---------- map B ---------- */
var b = svg.append("g");
b.append("rect").attr("x", 700).attr("y", 37.5).attr("width", 620).attr("height", 728.5)
    .attr("fill", "#fff").attr("stroke", "#222").attr("stroke-width", 1.6);
b.append("path").attr("d", pathB(outline) + "Z").attr("fill", "#bfbfbf");
var landB = b.append("g").attr("clip-path", "url(#clipB)");
fillAll(landB, softB, [yellowB, yellowCoastB], "#ffff00");
fillAll(landB, softB, [greenB, greenCoastB], "#007f00");
fillAll(landB, pathB, lakesB, "#00207f");
b.selectAll(".b").data(borders).enter().append("path")
    .attr("d", pathB).attr("fill", "none").attr("stroke", "#111").attr("stroke-width", 0.9);
b.append("path").attr("d", pathB(outline) + "Z").attr("fill", "none").attr("stroke", "#111").attr("stroke-width", 1);
b.selectAll(".i").data([pemba, zanzibar]).enter().append("path")
    .attr("d", function(d) { return pathB(d) + "Z"; }).attr("fill", "#fff").attr("stroke", "#111").attr("stroke-width", 0.9);
b.selectAll(".dot").data(islandDots).enter().append("circle")
    .attr("cx", function(d) { return xB(d[0]); }).attr("cy", function(d) { return yB(d[1]); })
    .attr("r", 0.9).attr("fill", "#111");

var boxPos = [[872, 84, 861, 109], [899, 191, 889, 213], [893, 382, 879, 406], [1038, 471, 1024, 494], [1214, 437, 1203, 448], [1133, 505, 1123, 522]];
zoneBoxesB.forEach(function(z, i) {
    var p = boxPos[i];
    b.append("rect").attr("x", p[0] - 1.5).attr("y", p[1] - 1.5).attr("width", 22).attr("height", 49).attr("fill", "#fff");
    b.append("rect").attr("x", p[0]).attr("y", p[1]).attr("width", 19).attr("height", 46).attr("fill", "#fff").attr("stroke", "#333").attr("stroke-width", 1);
    z.values.forEach(function(v, j) {
        label(b, p[0] + 9.5, p[1] + 8 + j * 15.5, v, 13, { anchor: "middle", font: serifFont, weight: "bold", fill: "#000" });
    });
    var w = z.zone.length * 6 + 5;
    b.append("rect").attr("x", p[2] - w / 2).attr("y", p[3] - 7).attr("width", w).attr("height", 14).attr("fill", "#fff");
    label(b, p[2], p[3], z.zone, 12.5, { anchor: "middle", font: serifFont, weight: "bold", fill: "#000" });
});

label(b, 1147, 595, "KEY", 11.5, { anchor: "middle", font: serifFont, weight: "bold", fill: "#000" });
label(b, 1107, 621, "The numbers in the boxes represent the", 10.3, { font: serifFont, weight: "bold", fill: "#000" });
label(b, 1107, 634, "probability of:", 10.3, { font: serifFont, weight: "bold", fill: "#000" });
b.append("rect").attr("x", 1111.5).attr("y", 652).attr("width", 28).attr("height", 90).attr("fill", "#fff").attr("stroke", "#333").attr("stroke-width", 1);
b.append("line").attr("x1", 1111.5).attr("x2", 1139.5).attr("y1", 680.5).attr("y2", 680.5).attr("stroke", "#777");
b.append("line").attr("x1", 1111.5).attr("x2", 1139.5).attr("y1", 712.5).attr("y2", 712.5).attr("stroke", "#333");
label(b, 1125, 663, "A", 12.5, { anchor: "middle", font: serifFont, weight: "bold", fill: "#000" });
label(b, 1125, 694, "N", 12.5, { anchor: "middle", font: serifFont, weight: "bold", fill: "#000" });
label(b, 1125, 726, "B", 12.5, { anchor: "middle", font: serifFont, weight: "bold", fill: "#000" });
label(b, 1149, 666, "Above", 9.5, { font: serifFont, weight: "bold", fill: "#000" });
label(b, 1149, 698, "Normal", 9.5, { font: serifFont, weight: "bold", fill: "#000" });
label(b, 1149, 730, "Below Normal", 9.5, { font: serifFont, weight: "bold", fill: "#000" });

/* panel letters */
label(svg, 3, 14.5, "A", 20, { weight: "bold", font: "'Liberation Sans', sans-serif", fill: "#000" });
label(svg, 677, 14.5, "B", 20, { weight: "bold", font: "'Liberation Sans', sans-serif", fill: "#000" });
</script>
</body>
</html>
